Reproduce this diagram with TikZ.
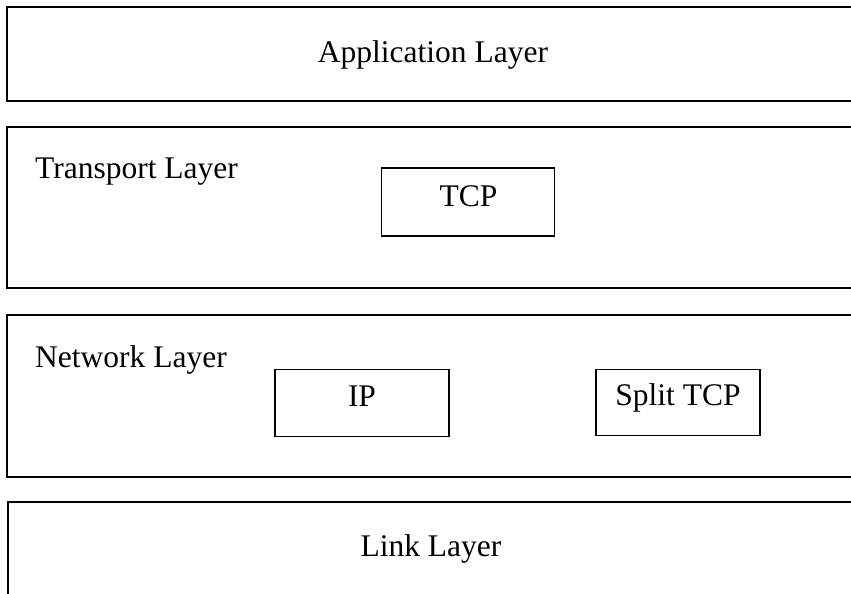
\documentclass[tikz,border=0pt]{standalone}
\usepackage{fontspec}
\setmainfont{Liberation Serif}
\begin{document}
\begin{tikzpicture}[x=1pt,y=-1pt,
  layer/.style={line width=1.3pt},
  caption/.style={font=\fontsize{31.5}{36}\selectfont, inner sep=0pt},
  module/.style={draw, line width=1.1pt, rectangle, inner sep=0pt}]
\useasboundingbox (0,0) rectangle (851,594);

% layer bands, open towards the right edge
\draw[layer] (851,7) -- (7,7) -- (7,101) -- (851,101);
\draw[layer] (851,127) -- (7,127) -- (7,288) -- (851,288);
\draw[layer] (851,315) -- (7,315) -- (7,477) -- (851,477);
\draw[layer] (851,502) -- (8,502) -- (8,594);

% layer names
\node[caption, anchor=base] (app) at (433,62.7) {Application Layer};
\node[caption, anchor=base west] (trans) at (35,178.3) {Transport Layer};
\node[caption, anchor=base west] (net) at (35,367.3) {Network Layer};
\node[caption, anchor=base] (link) at (431,556.7) {Link Layer};

% protocol modules
\node[module, minimum width=173pt, minimum height=68pt] (tcpbox) at (468.4,202) {};
\node[module, minimum width=174pt, minimum height=67pt] (ipbox) at (362,403.4) {};
\node[module, minimum width=164pt, minimum height=66pt] (splitbox) at (678,402.2) {};

\node[caption, anchor=base] (tcp) at (468.4,206) {TCP};
\node[caption, anchor=base] (ip) at (362,406.5) {IP};
\node[caption, anchor=base] (split) at (678,405.5) {Split TCP};
\end{tikzpicture}
\end{document}
